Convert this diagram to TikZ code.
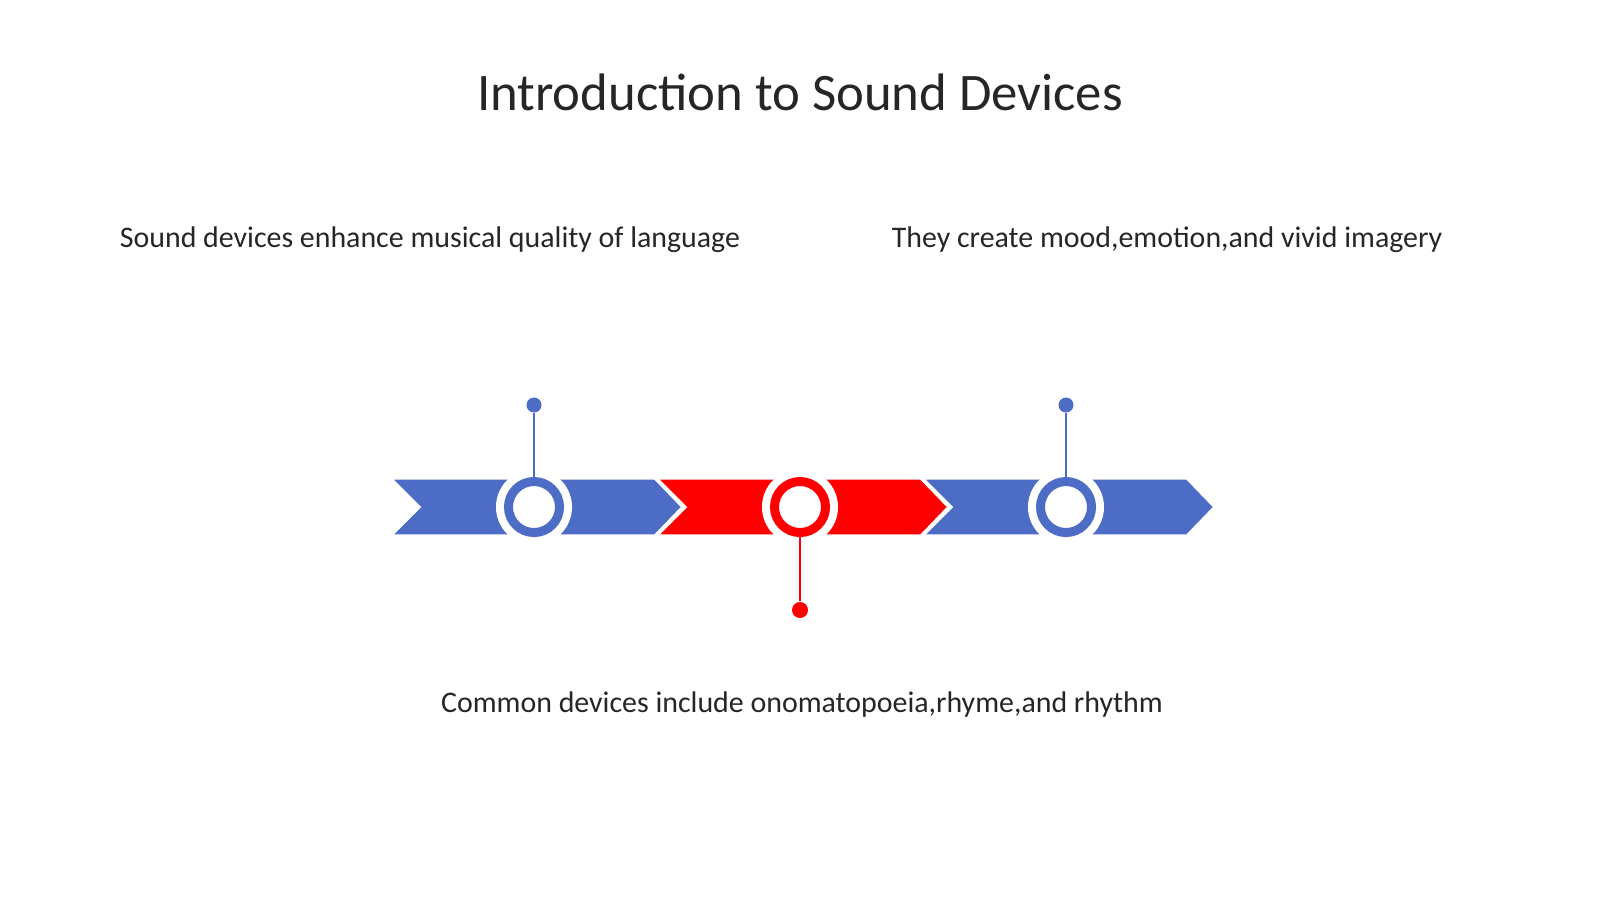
\documentclass[tikz,border=0pt]{standalone}
\usepackage{fontspec}
\setmainfont{Carlito}
\usetikzlibrary{positioning}
\definecolor{tlblue}{RGB}{76,108,198}
\definecolor{tlred}{RGB}{255,0,0}
\definecolor{tltext}{RGB}{38,38,38}
\begin{document}
\begin{tikzpicture}[x=0.01cm,y=-0.01cm,
 chev/.style={fill=#1,draw=white,line width=0.9pt,line join=miter},
 halo/.style={circle,fill=white,minimum size=0.76cm,inner sep=0pt},
 ring/.style={circle,draw=#1,line width=0.09cm,fill=white,minimum size=0.51cm,inner sep=0pt},
 pin/.style={circle,fill=#1,minimum size=0.15cm,inner sep=0pt},
 stem/.style={draw=#1,line width=0.6pt},
 lbl/.style={text=tltext,anchor=base,inner sep=0pt,font=\fontsize{8.5}{10}\selectfont}]
 \useasboundingbox (0,0) rectangle (1600,899);
 \node[lbl,font=\fontsize{15}{18}\selectfont] (title) at (800,110) {Introduction to Sound Devices};
 % chevron band
 \foreach \i/\c in {0/tlblue,1/tlred,2/tlblue}
 \draw[chev=\c] ({390+266*\i},478) -- ({655+266*\i},478) -- ({683+266*\i},507)
 -- ({655+266*\i},536) -- ({390+266*\i},536) -- ({419+266*\i},507) -- cycle;
 % rings on the band
 \foreach \i/\c in {1/tlblue,2/tlred,3/tlblue}{
 \node[halo] (h\i) at ({268+266*\i},507) {};
 \node[ring=\c] (r\i) at (h\i) {};
 }
 % pins
 \node[pin=tlblue] (p1) at (534,405) {};
 \node[pin=tlred,minimum size=0.16cm] (p2) at (800,610) {};
 \node[pin=tlblue] (p3) at (1066,405) {};
 \draw[stem=tlblue] (p1) -- (r1.north);
 \draw[stem=tlred] (p2) -- (r2.south);
 \draw[stem=tlblue] (p3) -- (r3.north);
 % texts
 \node[lbl] (txtA) at (430,247) {Sound devices enhance musical quality of language};
 \node[lbl] (txtB) at (1167,247) {They create mood,emotion,and vivid imagery};
 \node[lbl] (txtC) at (802,712) {Common devices include onomatopoeia,rhyme,and rhythm};
\end{tikzpicture}
\end{document}
